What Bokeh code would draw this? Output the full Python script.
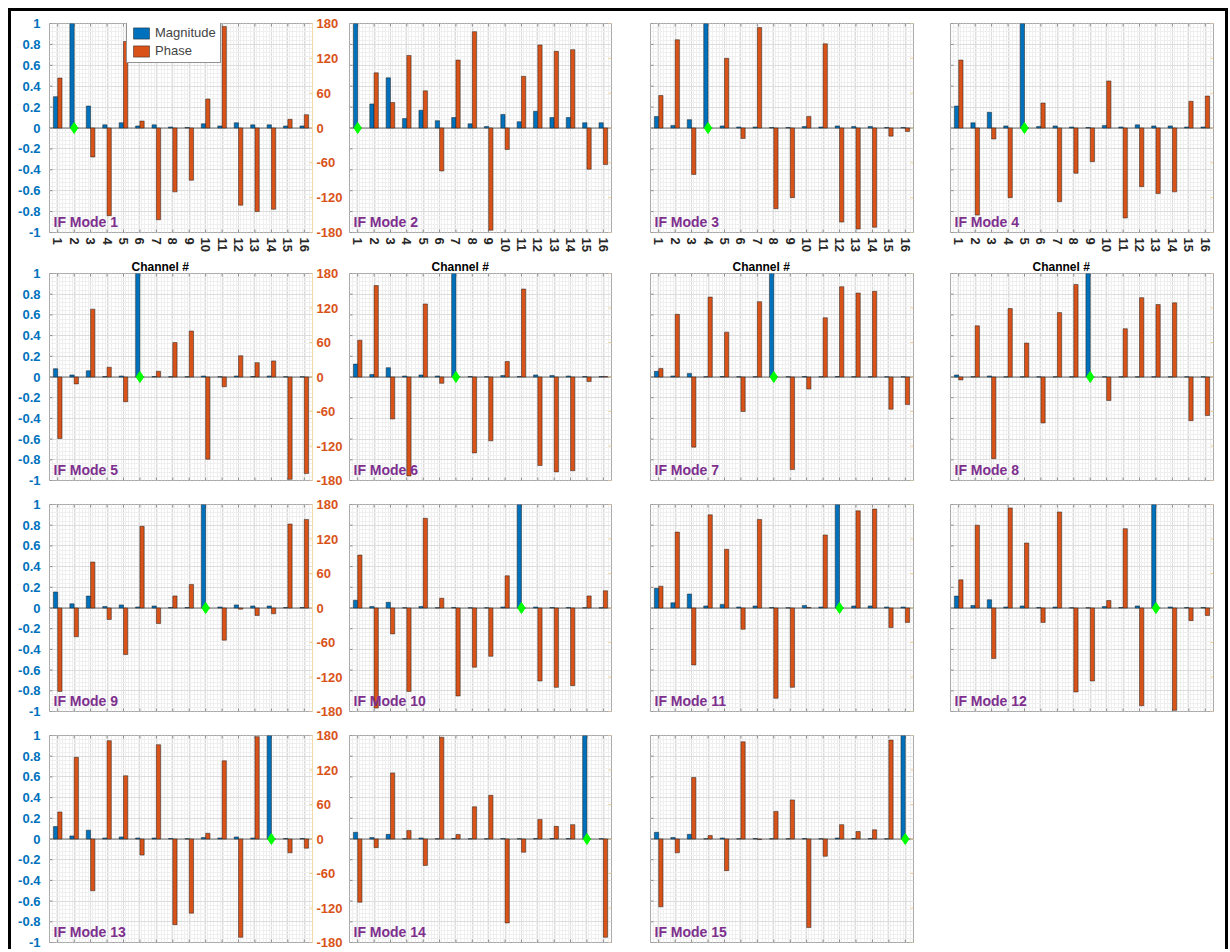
import math
from bokeh.plotting import figure
from bokeh.layouts import gridplot
from bokeh.models import (Range1d, LinearAxis, FixedTicker, ColumnDataSource, Legend,
                          LegendItem, Label, Grid, Span, Title)
from bokeh.transform import dodge
from bokeh.embed import file_html
from bokeh.resources import INLINE

# ---------------- data ----------------
channels = list(range(1, 17))
channel_labels = [str(c) for c in channels]
mode_names = [f"IF Mode {k}" for k in range(1, 16)]
ref_channel = [2, 1, 4, 5, 6, 7, 8, 9, 10, 11, 12, 13, 14, 15, 16]
mag_ticks = [-1, -0.8, -0.6, -0.4, -0.2, 0, 0.2, 0.4, 0.6, 0.8, 1]
mag_tick_labels = ["-1", "-0.8", "-0.6", "-0.4", "-0.2", "0", "0.2", "0.4", "0.6", "0.8", "1"]
phase_ticks = [-180, -120, -60, 0, 60, 120, 180]
phase_tick_labels = ["-180", "-120", "-60", "0", "60", "120", "180"]

mag_1 = [0.30, 1.0, 0.21, 0.03, 0.05, 0.02, 0.03, 0.01, 0.005, 0.04, 0.02, 0.05, 0.03, 0.03, 0.02, 0.02]
phase_1 = [86, 0, -50, -151, 149, 12, -158, -110, -90, 50, 175, -133, -144, -140, 15, 23]
mag_2 = [1.0, 0.23, 0.48, 0.09, 0.17, 0.07, 0.10, 0.04, 0.015, 0.13, 0.06, 0.16, 0.10, 0.10, 0.05, 0.05]
phase_2 = [0, 95, 44, 125, 64, -74, 117, 166, -176, -37, 89, 143, 132, 135, -71, -63]
mag_3 = [0.11, 0.025, 0.08, 1.0, 0.02, 0.01, 0.01, 0.005, 0.005, 0.015, 0.01, 0.02, 0.015, 0.015, 0.005, 0.005]
phase_3 = [56, 152, -80, 0, 120, -18, 173, -139, -120, 20, 145, -162, -174, -171, -14, -6]
mag_4 = [0.21, 0.05, 0.15, 0.02, 1.0, 0.015, 0.02, 0.01, 0.005, 0.025, 0.01, 0.03, 0.02, 0.02, 0.01, 0.01]
phase_4 = [117, -150, -19, -120, 0, 43, -127, -78, -58, 81, -155, -101, -113, -110, 46, 55]
mag_5 = [0.08, 0.02, 0.06, 0.005, 0.01, 1.0, 0.005, 0.003, 0.003, 0.01, 0.003, 0.01, 0.005, 0.01, 0.003, 0.003]
phase_5 = [-107, -12, 118, 17, -43, 0, 10, 60, 80, -143, -17, 37, 25, 28, -178, -168]
mag_6 = [0.125, 0.025, 0.09, 0.01, 0.02, 0.01, 1.0, 0.005, 0.003, 0.015, 0.005, 0.02, 0.015, 0.01, 0.005, 0.005]
phase_6 = [64, 159, -73, -172, 127, -11, 0, -132, -111, 27, 153, -154, -165, -163, -8, 1]
mag_7 = [0.055, 0.01, 0.035, 0.003, 0.005, 0.003, 0.003, 1.0, 0.003, 0.005, 0.003, 0.005, 0.003, 0.003, 0.002, 0.002]
phase_7 = [15, 109, -122, 139, 78, -60, 131, 0, -161, -21, 103, 157, 146, 149, -56, -48]
mag_8 = [0.02, 0.003, 0.01, 0.002, 0.002, 0.002, 0.002, 0.002, 1.0, 0.002, 0.002, 0.002, 0.002, 0.002, 0.002, 0.002]
phase_8 = [-5, 89, -142, 119, 59, -80, 112, 161, 0, -41, 84, 138, 126, 129, -76, -67]
mag_9 = [0.155, 0.04, 0.115, 0.015, 0.03, 0.01, 0.02, 0.005, 0.005, 1.0, 0.01, 0.03, 0.02, 0.02, 0.005, 0.005]
phase_9 = [-145, -50, 80, -20, -81, 142, -27, 21, 41, 0, -56, -2, -13, -10, 146, 154]
mag_10 = [0.075, 0.015, 0.055, 0.003, 0.015, 0.003, 0.005, 0.003, 0.003, 0.01, 1.0, 0.01, 0.005, 0.005, 0.003, 0.003]
phase_10 = [92, -174, -45, -145, 156, 17, -153, -103, -84, 56, 0, -127, -138, -135, 21, 30]
mag_11 = [0.19, 0.05, 0.135, 0.02, 0.035, 0.01, 0.02, 0.005, 0.003, 0.025, 0.01, 1.0, 0.02, 0.02, 0.01, 0.01]
phase_11 = [38, 132, -99, 162, 102, -37, 154, -157, -138, 1, 127, 0, 169, 172, -34, -25]
mag_12 = [0.115, 0.025, 0.08, 0.01, 0.02, 0.005, 0.01, 0.003, 0.003, 0.015, 0.005, 0.02, 1.0, 0.01, 0.005, 0.005]
phase_12 = [49, 144, -88, 174, 113, -25, 167, -146, -127, 13, 138, -170, 0, -178, -22, -13]
mag_13 = [0.12, 0.03, 0.085, 0.01, 0.02, 0.01, 0.01, 0.005, 0.003, 0.015, 0.01, 0.02, 0.01, 1.0, 0.005, 0.005]
phase_13 = [47, 142, -90, 171, 110, -28, 164, -149, -129, 10, 136, -171, 178, 0, -24, -16]
mag_14 = [0.065, 0.015, 0.045, 0.003, 0.01, 0.003, 0.005, 0.003, 0.003, 0.005, 0.003, 0.005, 0.005, 0.005, 1.0, 0.003]
phase_14 = [-110, -15, 115, 15, -46, 177, 8, 56, 76, -146, -23, 34, 22, 25, 0, -171]
mag_15 = [0.065, 0.015, 0.045, 0.003, 0.01, 0.003, 0.005, 0.003, 0.003, 0.005, 0.003, 0.01, 0.005, 0.005, 0.003, 1.0]
phase_15 = [-118, -24, 107, 6, -55, 169, -1, 48, 68, -154, -30, 25, 13, 16, 172, 0]

mags = [mag_1, mag_2, mag_3, mag_4, mag_5, mag_6, mag_7, mag_8, mag_9, mag_10,
        mag_11, mag_12, mag_13, mag_14, mag_15]
phases = [phase_1, phase_2, phase_3, phase_4, phase_5, phase_6, phase_7, phase_8, phase_9,
          phase_10, phase_11, phase_12, phase_13, phase_14, phase_15]

# ---------------- style ----------------
BLUE = "#0072BD"
ORANGE = "#D95319"
PURPLE = "#7E2F8E"
FONT = "Liberation Sans"
TICK = "#8c8c8c"
RTICK = "#f0cf8f"

col_L = [38, 0, 0, 0]
col_R = [37, 39, 37, 12]
col_W = [263, 262, 263, 263]
row_T = [12, 14, 7, 7]
row_B = [25, 17, 17, 7]
row_H = [209, 207, 207, 207]

x_minor = [round(0.5 + 0.2 * i, 2) for i in range(81)]
y_minor = [round(-1 + 0.04 * i, 2) for i in range(51)]


def no_ticks(ax):
    ax.major_tick_in = 0
    ax.major_tick_out = 0
    ax.minor_tick_in = 0
    ax.minor_tick_out = 0
    ax.major_tick_line_color = None
    ax.minor_tick_line_color = None


figs = []
for i in range(15):
    r, c = divmod(i, 4)
    p = figure(frame_width=col_W[c], frame_height=row_H[r],
               x_range=Range1d(0.5, 16.5), y_range=Range1d(-1, 1),
               output_backend="svg", toolbar_location=None,
               x_axis_location=None, y_axis_location=None,
               min_border_left=col_L[c], min_border_right=col_R[c],
               min_border_top=row_T[r], min_border_bottom=row_B[r],
               background_fill_color="white", border_fill_color="white",
               outline_line_color="#a8a8a8")
    p.extra_y_ranges = {"phase": Range1d(-180, 180)}
    p.grid.visible = False

    xt = FixedTicker(ticks=channels, minor_ticks=x_minor)
    yt = FixedTicker(ticks=mag_ticks, minor_ticks=y_minor)
    p.add_layout(Grid(dimension=0, ticker=xt, grid_line_color="#dcdcdc",
                      minor_grid_line_color="#efefef"))
    p.add_layout(Grid(dimension=1, ticker=yt, grid_line_color="#dcdcdc",
                      minor_grid_line_color="#efefef"))

    # inward tick marks on all four sides, placed through the scales
    x0, x1 = p.x_range.start, p.x_range.end
    y0, y1 = p.y_range.start, p.y_range.end
    p.ray(x=channels, y=[y0] * len(channels), length=3, angle=math.pi / 2,
          length_units="screen", line_color=TICK, line_width=1)
    p.ray(x=channels, y=[y1] * len(channels), length=3, angle=-math.pi / 2,
          length_units="screen", line_color=TICK, line_width=1)
    p.ray(x=[x0] * len(mag_ticks), y=mag_ticks, length=3, angle=0,
          length_units="screen", line_color=TICK, line_width=1)
    p.ray(x=[x1] * len(phase_ticks), y=phase_ticks, length=3, angle=math.pi,
          length_units="screen", line_color=RTICK, line_width=1, y_range_name="phase")

    if r == 0:
        xax = LinearAxis(ticker=FixedTicker(ticks=channels),
                         major_label_overrides={ch: lab for ch, lab in zip(channels, channel_labels)})
        no_ticks(xax)
        xax.axis_line_color = None
        xax.major_label_text_font_size = "13px"
        xax.major_label_text_font = FONT
        xax.major_label_text_font_style = "bold"
        xax.major_label_text_color = "#262626"
        xax.major_label_standoff = 5
        xax.major_label_orientation = -math.pi / 2
        p.add_layout(xax, "below")

    if r == 1:
        # the "Channel #" caption of the row above sits in this row's top margin
        p.add_layout(Title(text="Channel #", align="left", offset=82, standoff=0,
                           text_font=FONT, text_font_size="12px", text_font_style="bold",
                           text_color="#000000"), "above")

    if c == 0:
        lax = LinearAxis(ticker=FixedTicker(ticks=mag_ticks),
                         major_label_overrides={t: s for t, s in zip(mag_ticks, mag_tick_labels)})
        no_ticks(lax)
        lax.axis_line_color = None
        lax.major_label_text_font_size = "13px"
        lax.major_label_text_font = FONT
        lax.major_label_text_font_style = "bold"
        lax.major_label_text_color = BLUE
        lax.major_label_standoff = 9
        p.add_layout(lax, "left")

        rax = LinearAxis(y_range_name="phase", ticker=FixedTicker(ticks=phase_ticks),
                         major_label_overrides={t: s for t, s in zip(phase_ticks, phase_tick_labels)})
        no_ticks(rax)
        rax.axis_line_color = "#f3dba8"
        rax.major_label_text_font_size = "13px"
        rax.major_label_text_font = FONT
        rax.major_label_text_font_style = "bold"
        rax.major_label_text_color = ORANGE
        rax.major_label_standoff = 4
        p.add_layout(rax, "right")

    p.add_layout(Span(location=0, dimension="width", line_color="#6e6e6e",
                      line_width=1, level="underlay"))

    src = ColumnDataSource(dict(ch=channels, mag=mags[i], phase=phases[i]))
    rb = p.vbar(x=dodge("ch", -0.13, range=p.x_range), top="mag", bottom=0, width=0.26,
                source=src, fill_color=BLUE, line_color="#1f1f1f", line_width=0.5)
    ro = p.vbar(x=dodge("ch", 0.13, range=p.x_range), top="phase", bottom=0, width=0.26,
                source=src, y_range_name="phase", fill_color=ORANGE,
                line_color="#1f1f1f", line_width=0.5)
    p.scatter(x=[ref_channel[i]], y=[0], marker="diamond", size=11,
              fill_color="#00ff00", line_color="#00ff00")

    p.add_layout(Label(x=4, y=11, x_units="screen", y_units="screen", text=mode_names[i],
                       text_font=FONT, text_font_style="bold", text_font_size="14px",
                       text_color=PURPLE, text_baseline="alphabetic"))
    if i == 0:
        leg = Legend(items=[LegendItem(label="Magnitude", renderers=[rb]),
                            LegendItem(label="Phase", renderers=[ro])],
                     location=(77, 169), orientation="vertical",
                     label_text_font=FONT, label_text_font_size="13px",
                     glyph_width=20, glyph_height=14, label_height=14,
                     label_standoff=4, spacing=3, padding=4, margin=0,
                     border_line_color="#262626", border_line_width=1,
                     background_fill_color="white", background_fill_alpha=1)
        p.add_layout(leg)
    figs.append(p)

rows = [figs[0:4], figs[4:8], figs[8:12], figs[12:15] + [None]]
grid = gridplot(rows, toolbar_location=None)
grid.styles = {"margin-left": "8px", "margin-top": "8px",
               "border-left": "3px solid black", "border-top": "3px solid black",
               "border-right": "3px solid black"}

open("out.html", "w").write(file_html(grid, INLINE))
